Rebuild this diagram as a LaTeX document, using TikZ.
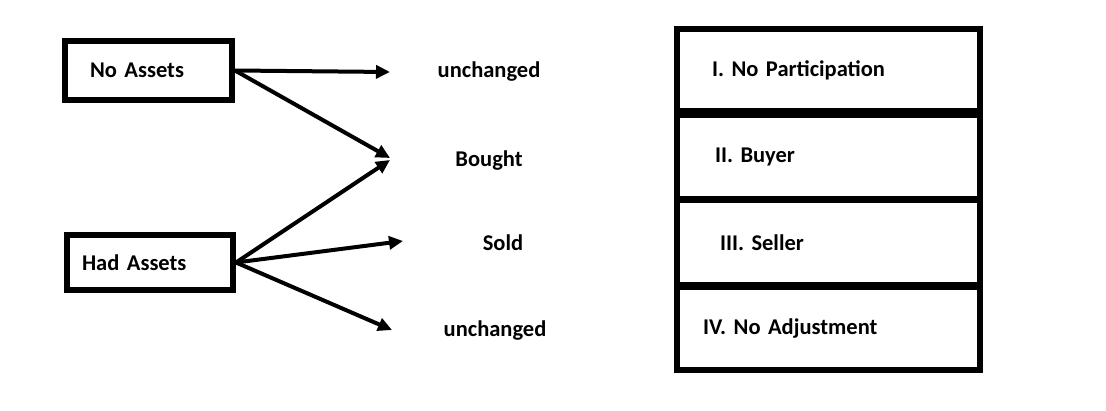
\documentclass[tikz,border=0pt]{standalone}
\usepackage{fontspec}
\setmainfont{Carlito}
\usepackage{tikz}
\usetikzlibrary{arrows.meta,positioning}
\tikzset{
  assetbox/.style={draw,line width=6pt,anchor=west,align=left,minimum height=59pt,inner ysep=0pt,font=\bfseries\fontsize{22.5}{24}\selectfont},
  stagebox/.style={draw,line width=6pt,anchor=north west,align=left,inner ysep=0pt,font=\bfseries\fontsize{22.5}{24}\selectfont},
  outcome/.style={font=\bfseries\fontsize{22.5}{24}\selectfont},
  flow/.style={line width=4pt,-{Triangle[length=14pt,width=13pt]}}
}
\begin{document}
\begin{tikzpicture}[x=1pt,y=-1pt]
  \useasboundingbox (0,0) rectangle (1106,410);
  % starting positions
  \node[assetbox,inner xsep=25pt,text width=117pt] (noassets) at (62,70.5) {No Assets};
  \node[assetbox,inner xsep=15pt,text width=136pt,minimum height=55pt] (hadassets) at (64,262.5) {Had Assets};
  % outcomes
  \node[outcome] (unch1) at (489,72) {unchanged};
  \node[outcome] (bought) at (489,161) {Bought};
  \node[outcome] (sold) at (503,243) {Sold};
  \node[outcome] (unch2) at (495,331) {unchanged};
  \coordinate (tipunch1) at (390,72);
  \coordinate (tipbought1) at (390,158);
  \coordinate (tipbought2) at (390,160);
  \coordinate (tipsold) at (403,241);
  \coordinate (tipunch2) at (392,330);
  \draw[flow] (noassets.east) -- (tipunch1);
  \draw[flow] (noassets.east) -- (tipbought1);
  \draw[flow] (hadassets.east) -- (tipbought2);
  \draw[flow] (hadassets.east) -- (tipsold);
  \draw[flow] (hadassets.east) -- (tipunch2);
  % categories
  \node[stagebox,inner xsep=35pt,text width=233pt,minimum height=82pt] (none) at (674,26) {I. No Participation};
  \node[stagebox,inner xsep=38pt,text width=227pt,minimum height=84pt] (buyer) at (674,112) {II. Buyer};
  \node[stagebox,inner xsep=43pt,text width=217pt,minimum height=85pt] (seller) at (674,197) {III. Seller};
  \node[stagebox,inner xsep=26pt,text width=251pt,minimum height=83pt] (noadj) at (674,284) {IV. No Adjustment};
\end{tikzpicture}
\end{document}
